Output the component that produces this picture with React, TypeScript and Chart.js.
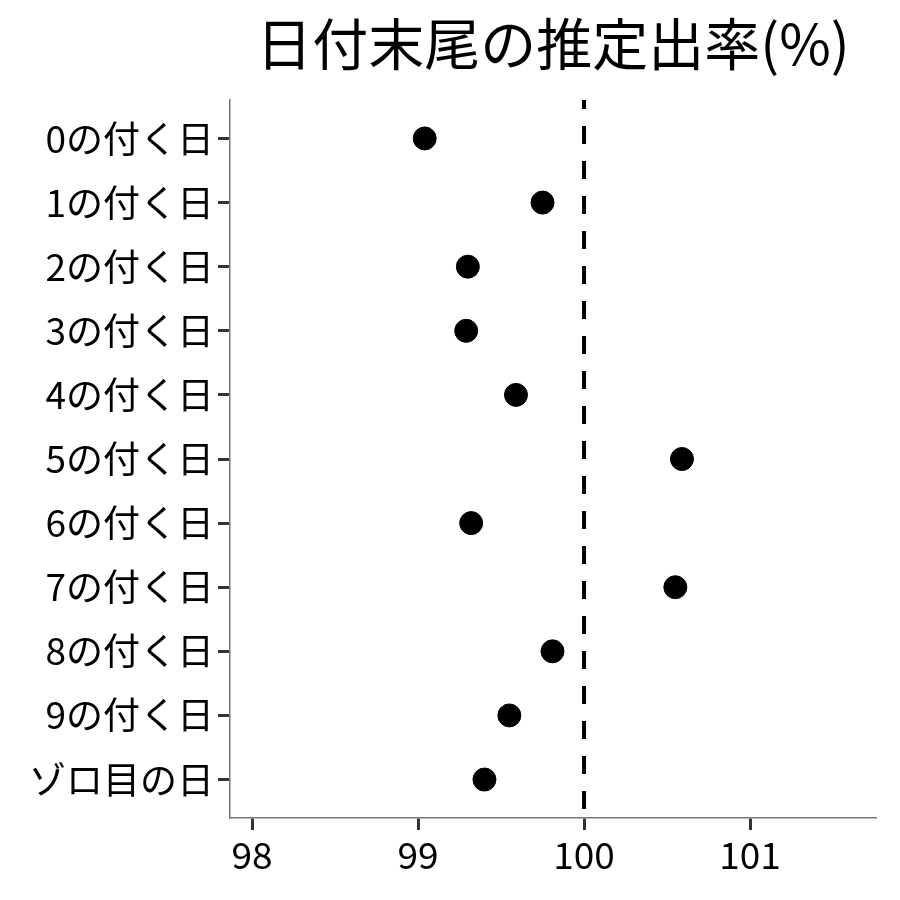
import React, { useEffect, useRef } from "react";
import { Chart, registerables } from "chart.js";

Chart.register(...registerables);

const TITLE = "日付末尾の推定出率(%)";
const categories = [
  "0の付く日",
  "1の付く日",
  "2の付く日",
  "3の付く日",
  "4の付く日",
  "5の付く日",
  "6の付く日",
  "7の付く日",
  "8の付く日",
  "9の付く日",
  "ゾロ目の日",
];
const rates = [99.04, 99.75, 99.3, 99.29, 99.59, 100.59, 99.32, 100.55, 99.81, 99.55, 99.4];
const xTicks = [98, 99, 100, 101];
const referenceValue = 100;
const xMin = 97.867;
const xMax = 101.759;

const FONT = "'Noto Sans CJK JP', 'Noto Sans', sans-serif";

export default function App() {
  const ref = useRef<HTMLCanvasElement | null>(null);

  useEffect(() => {
    document.body.style.margin = "0";
    const canvas = ref.current;
    if (!canvas) return;

    const titlePlugin = {
      id: "customTitle",
      afterDraw(chart: any) {
        const { ctx, chartArea } = chart;
        ctx.save();
        ctx.font = `56px ${FONT}`;
        ctx.fillStyle = "#000";
        ctx.textAlign = "center";
        ctx.textBaseline = "middle";
        ctx.fillText(TITLE, (chartArea.left + chartArea.right) / 2, 44);
        ctx.restore();
      },
    };

    const chart = new Chart(canvas, {
      type: "scatter",
      data: {
        datasets: [
          {
            type: "line",
            data: [
              { x: referenceValue, y: -0.6 },
              { x: referenceValue, y: categories.length - 0.4 },
            ],
            borderColor: "#000",
            borderWidth: 4,
            borderDash: [18, 17],
            borderDashOffset: 9,
            pointRadius: 0,
            fill: false,
          } as any,
          {
            data: rates.map((v, i) => ({ x: v, y: i })),
            backgroundColor: "#000",
            borderColor: "#000",
            pointRadius: 11.5,
            pointHoverRadius: 11.5,
          },
        ],
      },
      options: {
        responsive: false,
        animation: false,
        events: [],
        layout: { padding: { top: 100, right: 24, left: 0, bottom: 0 } },
        plugins: {
          legend: { display: false },
          tooltip: { enabled: false },
          title: { display: false },
        },
        scales: {
          x: {
            type: "linear",
            min: xMin,
            max: xMax,
            afterBuildTicks: (axis: any) => {
              axis.ticks = xTicks.map((v) => ({ value: v }));
            },
            afterFit: (axis: any) => {
              axis.height = 82;
            },
            grid: {
              display: true,
              drawOnChartArea: false,
              drawTicks: true,
              tickLength: 12,
              tickWidth: 3,
              tickColor: "#333",
            },
            border: { display: true, color: "#777", width: 1.5 },
            ticks: {
              color: "#000",
              font: { family: FONT, size: 37 },
              padding: 3,
              maxRotation: 0,
              callback: (v: any) => String(v),
            },
          },
          y: {
            type: "linear",
            min: -0.6,
            max: categories.length - 0.4,
            reverse: true,
            afterBuildTicks: (axis: any) => {
              axis.ticks = categories.map((_, i) => ({ value: i }));
            },
            afterFit: (axis: any) => {
              axis.width = 230;
            },
            grid: {
              display: true,
              drawOnChartArea: false,
              drawTicks: true,
              tickLength: 12,
              tickWidth: 3,
              tickColor: "#333",
            },
            border: { display: true, color: "#777", width: 1.5 },
            ticks: {
              color: "#000",
              font: { family: FONT, size: 37 },
              padding: 4,
              callback: (v: any) => categories[Math.round(Number(v))] ?? "",
            },
          },
        },
      },
      plugins: [titlePlugin],
    });

    return () => chart.destroy();
  }, []);

  return (
    <div style={{ width: 900, height: 900, background: "#fff" }}>
      <canvas ref={ref} width={900} height={900} style={{ display: "block" }} />
    </div>
  );
}
